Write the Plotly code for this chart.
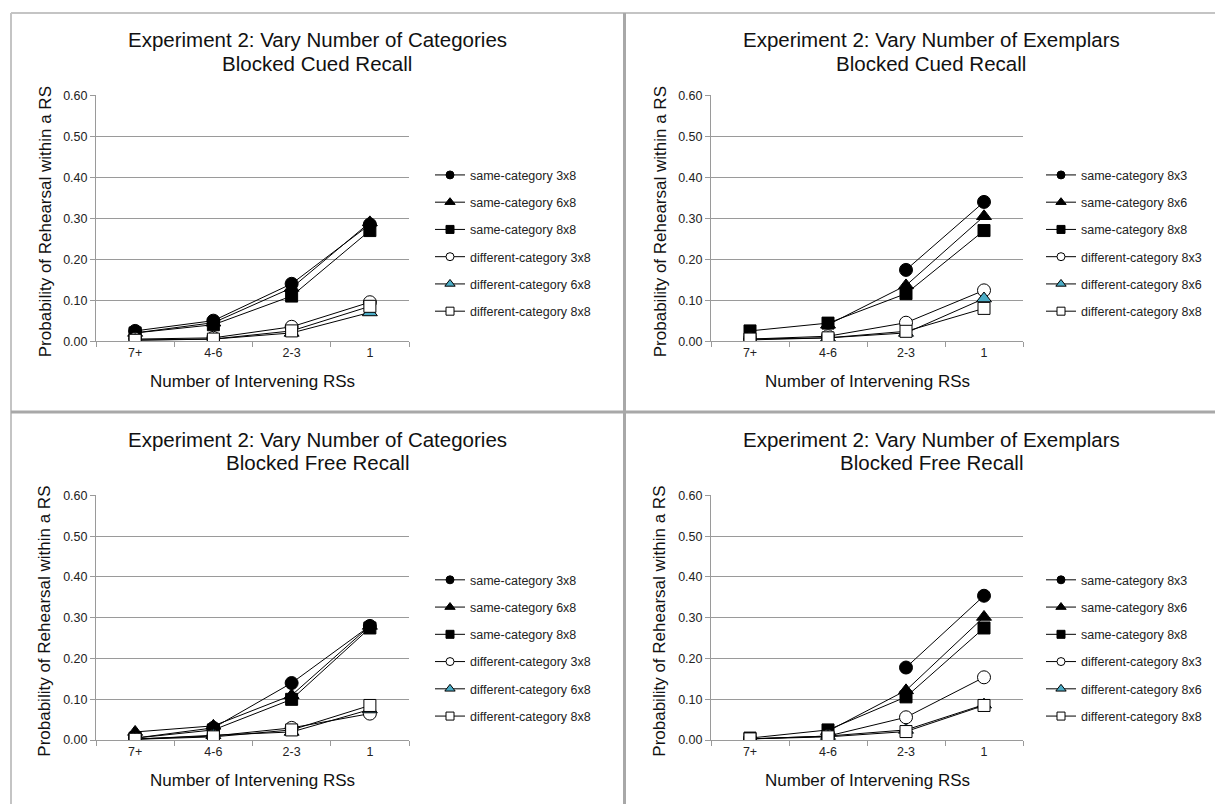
import plotly.graph_objects as go

W, H = 1215, 811

categories = ["7+", "4-6", "2-3", "1"]

# Panel 1: Vary Number of Categories, Blocked Cued Recall
p1_names = ["same-category 3x8", "same-category 6x8", "same-category 8x8",
            "different-category 3x8", "different-category 6x8", "different-category 8x8"]
p1_same_3x8 = [0.025, 0.050, 0.140, 0.285]
p1_same_6x8 = [0.020, 0.045, 0.130, 0.290]
p1_same_8x8 = [0.020, 0.040, 0.110, 0.270]
p1_diff_3x8 = [0.005, 0.008, 0.035, 0.095]
p1_diff_6x8 = [0.003, 0.005, 0.020, 0.070]
p1_diff_8x8 = [0.002, 0.005, 0.025, 0.085]

# Panel 2: Vary Number of Exemplars, Blocked Cued Recall
p2_names = ["same-category 8x3", "same-category 8x6", "same-category 8x8",
            "different-category 8x3", "different-category 8x6", "different-category 8x8"]
p2_same_8x3 = [None, None, 0.174, 0.340]
p2_same_8x6 = [None, 0.040, 0.136, 0.305]
p2_same_8x8 = [0.025, 0.044, 0.116, 0.270]
p2_diff_8x3 = [0.005, 0.012, 0.045, 0.124]
p2_diff_8x6 = [0.003, 0.008, 0.020, 0.104]
p2_diff_8x8 = [0.005, 0.008, 0.024, 0.080]

# Panel 3: Vary Number of Categories, Blocked Free Recall
p3_names = p1_names
p3_same_3x8 = [0.005, 0.030, 0.140, 0.280]
p3_same_6x8 = [0.020, 0.035, 0.110, 0.280]
p3_same_8x8 = [0.005, 0.025, 0.100, 0.275]
p3_diff_3x8 = [0.003, 0.010, 0.030, 0.065]
p3_diff_6x8 = [0.002, 0.012, 0.020, 0.075]
p3_diff_8x8 = [0.002, 0.008, 0.025, 0.085]

# Panel 4: Vary Number of Exemplars, Blocked Free Recall
p4_names = p2_names
p4_same_8x3 = [None, None, 0.178, 0.354]
p4_same_8x6 = [None, 0.022, 0.122, 0.302]
p4_same_8x8 = [0.005, 0.025, 0.106, 0.275]
p4_diff_8x3 = [0.003, 0.010, 0.056, 0.154]
p4_diff_8x6 = [0.003, 0.010, 0.025, 0.087]
p4_diff_8x8 = [0.003, 0.008, 0.021, 0.085]

title_line1 = [
    "Experiment 2: Vary Number of Categories",
    "Experiment 2: Vary Number of Exemplars",
    "Experiment 2: Vary Number of Categories",
    "Experiment 2: Vary Number of Exemplars",
]
title_line2 = [
    "Blocked Cued Recall",
    "Blocked Cued Recall",
    "Blocked Free Recall",
    "Blocked Free Recall",
]
x_title = "Number of Intervening RSs"
y_title = "Probability of Rehearsal within a RS"

panels = [
    (p1_names, [p1_same_3x8, p1_same_6x8, p1_same_8x8, p1_diff_3x8, p1_diff_6x8, p1_diff_8x8]),
    (p2_names, [p2_same_8x3, p2_same_8x6, p2_same_8x8, p2_diff_8x3, p2_diff_8x6, p2_diff_8x8]),
    (p3_names, [p3_same_3x8, p3_same_6x8, p3_same_8x8, p3_diff_3x8, p3_diff_6x8, p3_diff_8x8]),
    (p4_names, [p4_same_8x3, p4_same_8x6, p4_same_8x8, p4_diff_8x3, p4_diff_8x6, p4_diff_8x8]),
]

FONT = "Liberation Sans, Arial, sans-serif"
symbols = ["circle", "triangle-up", "square", "circle", "triangle-up", "square"]
fills = ["black", "black", "black", "white", "#4bacc6", "white"]
sizes = [13, 13, 12, 13, 13, 12]
leg_sizes = [8, 9, 8, 8, 9, 8]


def px(x):
    return x / W


def py(y):
    return 1 - y / H


# plot areas in pixels: (x0, x1, ytop, ybottom)
areas = [(96, 409, 90, 340), (711, 1023, 90, 340), (96, 409, 497, 746), (711, 1023, 497, 746)]
legend_pos = [(430, 156), (1041, 156), (430, 568), (1041, 568)]
title_pos = [(317, 33), (931, 33), (317, 440), (931, 440)]
xtitle_y = [381, 381, 787, 787]

fig = go.Figure()
layout = dict()
annotations = []

for i, (names, series) in enumerate(panels):
    k = "" if i == 0 else str(i + 1)
    lg = "legend" if i == 0 else f"legend{i + 1}"
    for j, (name, vals) in enumerate(zip(names, series)):
        fig.add_trace(go.Scatter(
            x=categories, y=vals, mode="lines+markers", name=name,
            xaxis="x" + k, yaxis="y" + k, showlegend=False,
            line=dict(color="black", width=1),
            marker=dict(symbol=symbols[j], size=sizes[j], color=fills[j],
                        line=dict(color="black", width=1)),
        ))
    for j, name in enumerate(names):
        fig.add_trace(go.Scatter(
            x=[None], y=[None], mode="lines+markers", name=name,
            xaxis="x" + k, yaxis="y" + k, legend=lg, legendgroup=f"g{i}_{j}",
            line=dict(color="black", width=1),
            marker=dict(symbol=symbols[j], size=leg_sizes[j], color=fills[j],
                        line=dict(color="black", width=1)),
        ))
    x0, x1, yt, yb = areas[i]
    layout["xaxis" + k] = dict(
        domain=[px(x0), px(x1)], anchor="y" + k, type="category",
        categoryorder="array", categoryarray=categories, range=[-0.5, 3.5],
        tickson="boundaries", ticks="outside", ticklen=5, tickcolor="#9a9a9a",
        showline=True, linecolor="#9a9a9a", linewidth=1, showgrid=False,
        tickfont=dict(family=FONT, size=12.5, color="#222"), zeroline=False,
    )
    layout["yaxis" + k] = dict(
        domain=[py(yb), py(yt)], anchor="x" + k, range=[0, 0.6], dtick=0.1,
        tickformat=".2f", ticks="outside", ticklen=5, tickcolor="#9a9a9a",
        showline=True, linecolor="#9a9a9a", linewidth=1, showgrid=True,
        gridcolor="#9a9a9a", gridwidth=1, zeroline=False,
        tickfont=dict(family=FONT, size=12.5, color="#222"),
    )
    lx, ly = legend_pos[i]
    layout[lg] = dict(
        x=px(lx), y=py(ly), xanchor="left", yanchor="top",
        bgcolor="rgba(0,0,0,0)", borderwidth=0, traceorder="grouped",
        tracegroupgap=8, font=dict(family=FONT, size=12.5, color="#222"),
    )
    tx, ty = title_pos[i]
    annotations.append(dict(
        text=title_line1[i], x=px(tx), y=py(ty), xref="paper", yref="paper",
        showarrow=False, xanchor="center", yanchor="middle",
        font=dict(family=FONT, size=20.5, color="#111"),
    ))
    annotations.append(dict(
        text=title_line2[i], x=px(tx), y=py(ty + 24), xref="paper", yref="paper",
        showarrow=False, xanchor="center", yanchor="middle",
        font=dict(family=FONT, size=20.5, color="#111"),
    ))
    annotations.append(dict(
        text=x_title, x=px((x0 + x1) / 2), y=py(xtitle_y[i]), xref="paper", yref="paper",
        showarrow=False, xanchor="center", yanchor="middle",
        font=dict(family=FONT, size=17, color="#111"),
    ))
    annotations.append(dict(
        text=y_title, x=px(x0 - 51), y=py((yt + yb) / 2 + 4), xref="paper", yref="paper",
        showarrow=False, xanchor="center", yanchor="middle", textangle=-90,
        font=dict(family=FONT, size=17, color="#111"),
    ))

shapes = [
    dict(type="line", xref="paper", yref="paper", x0=px(11), x1=1, y0=py(6), y1=py(6),
         line=dict(color="#c4c4c4", width=2)),
    dict(type="line", xref="paper", yref="paper", x0=px(11), x1=px(11), y0=0, y1=py(6),
         line=dict(color="#c4c4c4", width=2)),
    dict(type="line", xref="paper", yref="paper", x0=px(624.5), x1=px(624.5), y0=0, y1=py(6),
         line=dict(color="#a8a8a8", width=3)),
    dict(type="line", xref="paper", yref="paper", x0=px(11), x1=1, y0=py(412), y1=py(412),
         line=dict(color="#a8a8a8", width=3)),
]

fig.update_layout(
    width=W, height=H, margin=dict(l=0, r=0, t=0, b=0),
    paper_bgcolor="white", plot_bgcolor="white",
    annotations=annotations, shapes=shapes, **layout,
)

fig.write_html("out.html")
